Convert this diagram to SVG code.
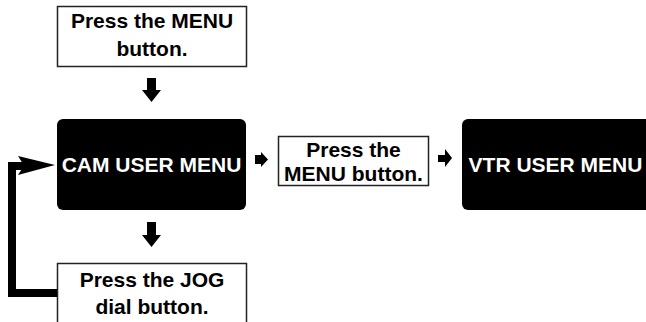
<svg xmlns="http://www.w3.org/2000/svg" width="646" height="322" viewBox="0 0 646 322">
<style>
text{font-family:"Liberation Sans",Arial,sans-serif;font-weight:bold;font-size:21px;text-anchor:middle}
.wb{fill:#fff;stroke:#222;stroke-width:1.5}
.bb{fill:#000}
.wt{fill:#fff}
.bt{fill:#000}
.ar{fill:#000}
</style>
<rect width="646" height="322" fill="#fff"/>
<g id="press-menu-top">
<rect class="wb" x="57.5" y="6.5" width="189" height="60"/>
<text class="bt" x="152" y="28">Press the MENU</text>
<text class="bt" x="152" y="56">button.</text>
</g>
<g id="cam-user-menu">
<rect class="bb" x="57" y="119" width="189" height="91" rx="6"/>
<text class="wt" x="151.5" y="172">CAM USER MENU</text>
</g>
<g id="press-menu-mid">
<rect class="wb" x="278.5" y="136.5" width="150" height="49"/>
<text class="bt" x="353.5" y="157">Press the</text>
<text class="bt" x="353.5" y="181">MENU button.</text>
</g>
<g id="vtr-user-menu">
<rect class="bb" x="462" y="119" width="190" height="91" rx="6"/>
<text class="wt" x="555.5" y="172">VTR USER MENU</text>
</g>
<g id="press-jog">
<rect class="wb" x="57.5" y="263.5" width="189" height="70"/>
<text class="bt" x="152" y="287">Press the JOG</text>
<text class="bt" x="152" y="314">dial button.</text>
</g>
<g id="connectors">
<polygon class="ar" points="147,78 156,78 156,90 161,90 151.5,102 142,90 147,90"/>
<polygon class="ar" points="147,222 156,222 156,235 161,235 151.5,247 142,235 147,235"/>
<polygon class="ar" points="255,155 261,155 261,152 268,159.5 261,167 261,164 255,164"/>
<polygon class="ar" points="438,155 445,155 445,149 452,158 445,167 445,162 438,162"/>
<polyline points="57,293 12,293 12,166 26,166" fill="none" stroke="#000" stroke-width="8"/>
<polygon class="ar" points="18,156 55,165 18,175 24,165.5"/>
</g>
</svg>
